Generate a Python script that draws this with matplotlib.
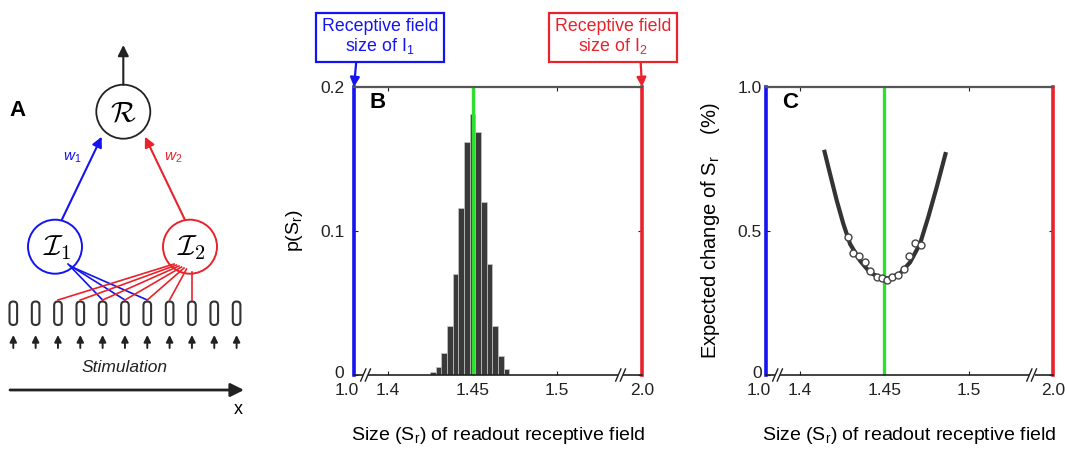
import matplotlib
matplotlib.use("Agg")
import matplotlib.pyplot as plt
from matplotlib.patches import Circle, FancyBboxPatch
from matplotlib.transforms import ScaledTranslation

plt.rcParams['font.family'] = ['Liberation Sans', 'DejaVu Sans']
plt.rcParams['mathtext.fontset'] = 'custom'
plt.rcParams['mathtext.rm'] = 'Liberation Sans'
plt.rcParams['mathtext.it'] = 'Liberation Sans:italic'
plt.rcParams['mathtext.bf'] = 'Liberation Sans:bold'

# ---------------- data ----------------
# broken x axis: 1.0 and 2.0 are drawn at the break positions
x_tick_pos = [1.38, 1.40, 1.45, 1.50, 1.55]
x_tick_labels = ['1.0', '1.4', '1.45', '1.5', '2.0']
optimal_size = 1.45

# panel B histogram p(S_r)
hist_centers = [1.4266, 1.4300, 1.4333, 1.4366, 1.4400, 1.4433, 1.4466,
                1.4500, 1.4533, 1.4566, 1.4600, 1.4633, 1.4666, 1.4700]
hist_heights = [0.0023, 0.0053, 0.015, 0.034, 0.070, 0.116, 0.162,
                0.181, 0.169, 0.120, 0.077, 0.034, 0.013, 0.004]
b_yticks = [0, 0.1, 0.2]
b_yticklabels = ['0', '0.1', '0.2']

# panel C expected change of S_r
curve_x = [1.4144, 1.4179, 1.4219, 1.4258, 1.4298, 1.4357, 1.4416, 1.4485,
           1.4535, 1.4594, 1.4653, 1.4712, 1.4761, 1.4811, 1.4866]
curve_y = [0.782, 0.699, 0.606, 0.525, 0.455, 0.397, 0.356, 0.335,
           0.337, 0.353, 0.391, 0.455, 0.548, 0.652, 0.774]
sim_x = [1.4284, 1.4313, 1.4353, 1.4386, 1.4416, 1.4456, 1.4485,
         1.4515, 1.4548, 1.4584, 1.4617, 1.4649, 1.4683, 1.4716]
sim_y = [0.480, 0.422, 0.414, 0.391, 0.360, 0.341, 0.336,
         0.331, 0.339, 0.347, 0.368, 0.414, 0.457, 0.451]
c_yticks = [0, 0.5, 1.0]
c_yticklabels = ['0', '0.5', '1.0']

BLUE = '#1414f0'
RED = '#e8232b'
GREEN = '#2ee02e'
DARK = '#333333'

W, H = 1065, 449
fig = plt.figure(figsize=(W / 100, H / 100), dpi=100)

# ---------------- panel A (schematic) ----------------
axA = fig.add_axes([0, 0, 266 / W, 1])
axA.set_xlim(0, 266)
axA.set_ylim(449, 0)
axA.axis('off')

axA.text(18, 110, 'A', fontsize=16, fontweight='bold', ha='center', va='center')

R_c = (123.3, 111.7)
I1_c = (55, 246.7)
I2_c = (190, 246.7)
rad = 27
axA.add_patch(Circle(R_c, rad, fill=False, ec='#222222', lw=1.3))
axA.add_patch(Circle(I1_c, rad, fill=False, ec=BLUE, lw=1.4))
axA.add_patch(Circle(I2_c, rad, fill=False, ec=RED, lw=1.4))
axA.text(R_c[0], R_c[1] + 1, r'$\mathcal{R}$', math_fontfamily='cm', fontsize=21,
         ha='center', va='center')
axA.text(I1_c[0] + 2, I1_c[1] + 1, r'$\mathcal{I}_{\mathsf{1}}$', math_fontfamily='cm',
         fontsize=21, ha='center', va='center')
axA.text(I2_c[0] + 2, I2_c[1] + 1, r'$\mathcal{I}_{\mathsf{2}}$', math_fontfamily='cm',
         fontsize=21, ha='center', va='center')

# output arrow
axA.annotate('', xy=(R_c[0], 45), xytext=(R_c[0], R_c[1] - rad),
             arrowprops=dict(arrowstyle='-|>', color='#222222', lw=1.5,
                             mutation_scale=16, shrinkA=0, shrinkB=0))
# weights
axA.annotate('', xy=(101.7, 136.7), xytext=(61.7, 220),
             arrowprops=dict(arrowstyle='-|>', color=BLUE, lw=1.5,
                             mutation_scale=15, shrinkA=0, shrinkB=0))
axA.annotate('', xy=(145, 136.7), xytext=(185, 220),
             arrowprops=dict(arrowstyle='-|>', color=RED, lw=1.5,
                             mutation_scale=15, shrinkA=0, shrinkB=0))
axA.text(72, 158, r'$w_{1}$', color=BLUE, fontsize=11, ha='center', va='center')
axA.text(173, 158, r'$w_{2}$', color=RED, fontsize=11, ha='center', va='center')

# receptors
rec_x = [13.3 + i * 22.33 for i in range(11)]
for rx in rec_x:
    axA.add_patch(FancyBboxPatch((rx - 3.8, 301.5), 7.6, 23.5,
                                 boxstyle='round,pad=0,rounding_size=3.8',
                                 fill=False, ec='#333333', lw=1.5))
    axA.annotate('', xy=(rx, 335), xytext=(rx, 348),
                 arrowprops=dict(arrowstyle='-|>', color='#222222', lw=1.4,
                                 mutation_scale=10, shrinkA=0, shrinkB=0))
for k, i in enumerate([4, 5, 6]):
    axA.plot([68 + 2 * k, rec_x[i]], [264 + 1.5 * k, 300], color=BLUE, lw=1.2)
for k, i in enumerate([2, 3, 4, 5, 6, 7, 8]):
    sx = 174 + 2.5 * k
    sy = 264 + 1 * k
    if i == 8:
        sx, sy = rec_x[8], 272
    axA.plot([sx, rec_x[i]], [sy, 300], color=RED, lw=1.2)

axA.text(125, 367, 'Stimulation', fontsize=12.5, style='italic', color='#222222',
         ha='center', va='center')
axA.annotate('', xy=(244, 390), xytext=(10, 390),
             arrowprops=dict(arrowstyle='-|>', color='#222222', lw=2.0,
                             mutation_scale=20, shrinkA=0, shrinkB=0))
axA.text(238, 409, 'x', fontsize=13, ha='center', va='center')


# ---------------- helpers for B and C ----------------
def style_axis(ax, yticks, yticklabels, ypad):
    ax.set_xlim(x_tick_pos[0], x_tick_pos[-1])
    ax.set_xticks(x_tick_pos)
    ax.set_xticklabels(x_tick_labels)
    ax.set_yticks(yticks)
    ax.set_yticklabels(yticklabels)
    ax.tick_params(axis='both', direction='in', length=3, width=0.8,
                   labelsize=12.5, colors='#222222')
    ax.tick_params(axis='x', pad=6, top=True)
    ax.tick_params(axis='y', pad=ypad, right=True)
    ax.spines['left'].set_color(BLUE)
    ax.spines['left'].set_linewidth(2.6)
    ax.spines['right'].set_color(RED)
    ax.spines['right'].set_linewidth(2.6)
    ax.spines['top'].set_color('#555555')
    ax.spines['top'].set_linewidth(1.6)
    ax.spines['bottom'].set_color('#222222')
    ax.spines['bottom'].set_linewidth(1.2)
    for sp in ax.spines.values():
        sp.set_zorder(6)
    labs = ax.get_xticklabels()
    labs[0].set_transform(labs[0].get_transform() +
                          ScaledTranslation(-5 / 72, 0, fig.dpi_scale_trans))
    ylabs = ax.get_yticklabels()
    ylabs[0].set_transform(ylabs[0].get_transform() +
                           ScaledTranslation(0, 2.5 / 72, fig.dpi_scale_trans))
    # axis break marks
    tr = ax.transAxes
    for bx in [11 / 288, 1 - 22 / 288]:
        ax.plot([bx - 0.006, bx + 0.012], [0, 0], color='white', lw=3,
                transform=tr, clip_on=False, zorder=7, solid_capstyle='butt')
        for dx in [-0.006, 0.010]:
            ax.plot([bx + dx - 0.009, bx + dx + 0.009], [-0.021, 0.021],
                    color='#222222', lw=1.0, transform=tr, clip_on=False, zorder=8)
    ax.set_xlabel(r'Size (S$_\mathrm{r}$) of readout receptive field', fontsize=14)


# ---------------- panel B ----------------
axB = fig.add_axes([354 / W, 1 - 375 / H, 288 / W, 288 / H])
axB.bar(hist_centers, hist_heights, width=0.00335, color='#3a3a3a',
        edgecolor='#c8c8c8', linewidth=0.5, zorder=2)
axB.axvline(optimal_size, color=GREEN, lw=2.4, zorder=3)
axB.set_ylim(0, 0.2)
style_axis(axB, b_yticks, b_yticklabels, ypad=7)
axB.set_ylabel(r'p(S$_\mathrm{r}$)', fontsize=14)
axB.yaxis.set_label_coords(-0.17, 0.5)
axB.xaxis.set_label_coords(0.5, -0.175)
axB.text(0.055, 0.945, 'B', transform=axB.transAxes, fontsize=16,
         fontweight='bold', ha='left', va='center')

# ---------------- panel C ----------------
axC = fig.add_axes([766 / W, 1 - 375 / H, 287 / W, 288 / H])
axC.axvline(optimal_size, color=GREEN, lw=2.4, zorder=2)
axC.plot(curve_x, curve_y, color=DARK, lw=3.0, zorder=3,
         solid_capstyle='butt')
axC.plot(sim_x, sim_y, 'o', ms=5, mfc='white', mec='#444444', mew=1.0, zorder=4)
axC.set_ylim(0, 1.0)
style_axis(axC, c_yticks, c_yticklabels, ypad=3)
axC.set_ylabel(r'Expected change of S$_\mathrm{r}$    (%)', fontsize=14.5)
axC.yaxis.set_label_coords(-0.155, 0.5)
axC.xaxis.set_label_coords(0.5, -0.175)
axC.text(0.055, 0.945, 'C', transform=axC.transAxes, fontsize=16,
         fontweight='bold', ha='left', va='center')

# ---------------- top annotation boxes ----------------
axB.annotate('Receptive field\nsize of I$_{1}$', xy=(0, 1), xycoords='axes fraction',
             xytext=(380 / W, 1 - 37 / H), textcoords='figure fraction',
             ha='center', va='center', fontsize=12.8, color=BLUE, linespacing=1.1,
             bbox=dict(boxstyle='square,pad=0.3', fc='white', ec=BLUE, lw=1.6),
             arrowprops=dict(arrowstyle='-|>', color=BLUE, lw=1.6, mutation_scale=14,
                             shrinkA=0, shrinkB=0, relpos=(0.30, 0)),
             annotation_clip=False)
axB.annotate('Receptive field\nsize of I$_{2}$', xy=(1, 1), xycoords='axes fraction',
             xytext=(613 / W, 1 - 37 / H), textcoords='figure fraction',
             ha='center', va='center', fontsize=12.8, color=RED, linespacing=1.1,
             bbox=dict(boxstyle='square,pad=0.3', fc='white', ec=RED, lw=1.6),
             arrowprops=dict(arrowstyle='-|>', color=RED, lw=1.6, mutation_scale=14,
                             shrinkA=0, shrinkB=0, relpos=(0.735, 0)),
             annotation_clip=False)

fig.savefig('out.png', dpi=100)
